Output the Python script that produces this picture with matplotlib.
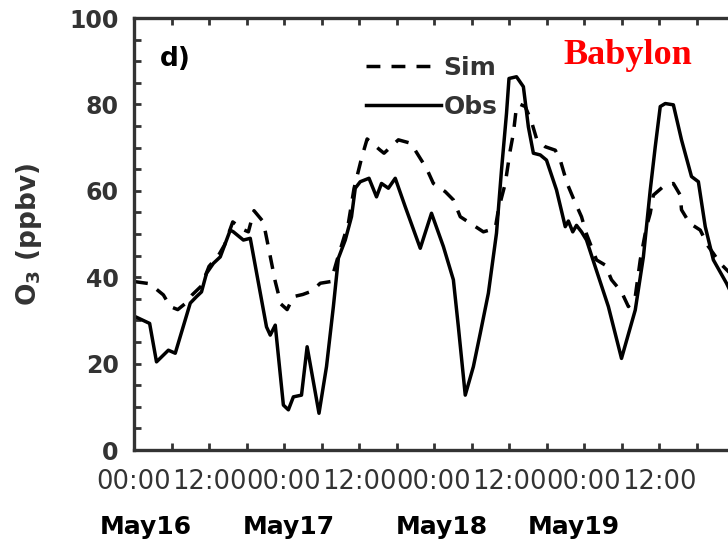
import numpy as np
import matplotlib.pyplot as plt
from matplotlib.lines import Line2D
from matplotlib.ticker import MultipleLocator, FixedLocator, FixedFormatter

# O3 at Babylon, hours since May16 00:00
obsHours = [0, 2.5, 3.6, 5.5, 6.6, 9, 10, 10.8, 11.6, 12.7, 13.8, 15.4, 15.9, 17.5, 18.6,
            21.2, 21.8, 22.6, 23.9, 24.7, 25.5, 26.8, 27.7, 29.6, 30.8, 31.9, 32.7, 33.8,
            34.8, 35.4, 36.2, 37.6, 38.8, 39.6, 40.7, 41.8, 43.4, 45.8, 47.6, 49.5, 51.1,
            51.9, 53, 54.3, 55.4, 56.7, 58, 58.8, 59.6, 60, 61.2, 62.3, 63.1, 63.9, 65, 66,
            67.6, 69, 69.5, 70.2, 70.8, 71.6, 72.4, 73.8, 75.9, 78, 80.2, 81.5, 82.6, 83.4,
            84.2, 85, 86.3, 87.6, 89.2, 90.3, 91.4, 92.7, 94.8, 96]
obsO3 = [31, 29.3, 20.4, 23.1, 22.4, 34, 35.5, 36.6, 40.9, 43.2, 44.7, 50.9, 50.5, 48.6, 49,
         28.5, 26.6, 28.9, 10.4, 9.3, 12.3, 12.7, 23.9, 8.5, 19.3, 33.2, 44.4, 48.6,
         54, 60.6, 62.1, 62.9, 58.6, 61.7, 60.6, 62.9, 56.3, 46.7, 54.8, 47.1, 39.4,
         28.5, 12.7, 19.3, 27, 36.3, 50.2, 64.8, 77.9, 86, 86.4, 84.1, 74.8, 68.7, 68.3, 67.1,
         60.2, 51.7, 53, 50.5, 52, 50.5, 48.6, 42.4, 33.2, 21.2, 32.4, 44.7, 60.2, 70.2,
         79.5, 80.2, 79.9, 71.8, 63.3, 62.1, 51.7, 44, 38.6, 35]

simHours = [0, 2.5, 4.7, 5.8, 7, 8.2, 9.3, 10.8, 12, 13.5, 14.5, 15.8, 17.5, 18.3, 19.2,
            20.7, 21.5, 22.6, 23.5, 24.5, 25.5, 27, 28.5, 29.8, 31.5, 32.5, 34.3, 35.2,
            36.4, 37.3, 39.4, 40, 42.3, 44.3, 45.8, 46.8, 47.9, 49.8, 51.1, 52.2, 53.8,
            55.9, 57.8, 58.3, 59.4, 60.2, 60.7, 61.2, 61.8, 62.6, 63.6, 64.4, 65.8, 67.4,
            68.2, 69.3, 70.4, 71.6, 72.4, 74, 75.4, 76.4, 78, 79.1, 80.2, 81, 82, 82.6,
            83.1, 84.7, 86.3, 87.4, 87.6, 88.9, 90.6, 91.9, 92.7, 93.8, 96]
simO3 = [39, 38.5, 35.9, 33.2, 32.5, 33.9, 35.9, 38, 42.5, 45, 47.5, 52.8, 51, 50.5, 55.4,
         52.8, 47, 39, 33.8, 32.5, 35.5, 36, 36.8, 38.6, 39, 44, 52.5, 60.5,
         67.5, 72, 69.4, 68.7, 71.8, 71, 67.5, 65.2, 61.7, 59.8, 57.9, 54, 52.5,
         50.5, 51.3, 55.6, 61.7, 69.4, 73.3, 79.5, 80, 79.5, 76, 72.1, 70.2, 69.4,
         67.1, 61.7, 57.9, 54, 50, 44, 42.8, 39.4, 36.6, 33.2, 35.5, 44, 51.7, 54.8,
         59, 61, 61.7, 59, 55.6, 52.5, 50.9, 47.1, 45.5, 43.2, 40]

tickHours = [0, 12, 24, 36, 48, 60, 72, 84, 96]
tickLabels = ['00:00', '12:00', '00:00', '12:00', '00:00', '12:00', '00:00', '12:00', '']
dayNames = ['May16', 'May17', 'May18', 'May19']
dayLabelHours = [1.9, 24.8, 49.3, 70.4]

grey = '#333333'
plt.rcParams['font.family'] = ['DejaVu Sans']

fig = plt.figure(figsize=(7.28, 5.43), dpi=100)
ax = fig.add_axes([134/728, 93/543, 600/728, 432/543])

ax.plot(obsHours, obsO3, color='black', lw=2.5, solid_joinstyle='round')
ax.plot(simHours, simO3, color='black', lw=2.5, dashes=(4, 3.2))

ax.set_xlim(0, 96)
ax.set_ylim(0, 100)
ax.xaxis.set_major_locator(FixedLocator(tickHours))
ax.xaxis.set_major_formatter(FixedFormatter(tickLabels))
ax.xaxis.set_minor_locator(MultipleLocator(6))
ax.yaxis.set_major_locator(MultipleLocator(20))
ax.yaxis.set_minor_locator(MultipleLocator(5))

for s in ax.spines.values():
    s.set_linewidth(2.4)
    s.set_color(grey)
ax.tick_params(which='both', direction='in', length=5, width=2, color=grey,
               top=True, right=False)
ax.tick_params(axis='y', labelsize=17, labelcolor=grey, pad=11)
ax.tick_params(axis='x', labelsize=18.5, labelcolor=grey, pad=14)
for t in ax.get_yticklabels():
    t.set_fontweight('bold')

ax.set_ylabel('O$_\\mathbf{3}$ (ppbv)', fontsize=19, fontweight='bold', color=grey)
ax.yaxis.set_label_coords(-0.15, 0.5)

# day names under the hour labels
for h, name in zip(dayLabelHours, dayNames):
    ax.text(h, -0.178, name, transform=ax.get_xaxis_transform(), ha='center', va='center',
            fontsize=18, fontweight='bold', clip_on=False)

ax.text(0.043, 0.905, 'd)', transform=ax.transAxes, fontsize=19, fontweight='bold',
        ha='left', va='center')
ax.text(0.715, 0.914, 'Babylon', transform=ax.transAxes, fontsize=26, fontweight='bold',
        color='red', family='Liberation Serif', ha='left', va='center')

handles = [Line2D([], [], color='black', lw=2.5, dashes=(4, 3.2)),
           Line2D([], [], color='black', lw=2.5)]
leg = ax.legend(handles, ['Sim', 'Obs'], loc='upper left', bbox_to_anchor=(0.37, 0.936),
                frameon=False, fontsize=18, handlelength=3.0, handletextpad=0.1,
                labelspacing=0.62, borderaxespad=0)
for t in leg.get_texts():
    t.set_color(grey)
    t.set_fontweight('bold')

fig.savefig('out.png', dpi=100)
